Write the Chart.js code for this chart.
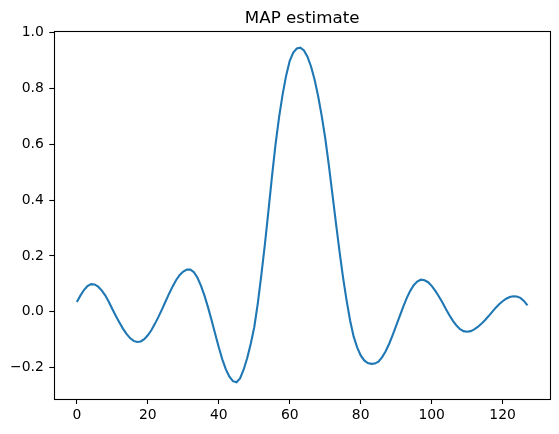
<!DOCTYPE html>
<html>
<head>
<meta charset="utf-8">
<script src="https://cdn.jsdelivr.net/npm/chart.js@4/dist/chart.umd.min.js"></script>
<style>
  html, body { margin: 0; padding: 0; background: #fff; }
  #wrap { width: 559px; height: 434px; position: relative; }
</style>
</head>
<body>
<div id="wrap"><canvas id="c" width="559" height="434"></canvas></div>
<script>
const titleText = "MAP estimate";
const xTicks = [0, 20, 40, 60, 80, 100, 120];
const yTicks = [-0.2, 0.0, 0.2, 0.4, 0.6, 0.8, 1.0];
const mapValues = [
  0.035, 0.058, 0.078, 0.092, 0.099, 0.098, 0.090, 0.077, 0.059, 0.036,
  0.010, -0.015, -0.038, -0.060, -0.079, -0.094, -0.104, -0.108, -0.106, -0.098,
  -0.084, -0.066, -0.043, -0.018, 0.009, 0.037, 0.065, 0.091, 0.114, 0.132,
  0.144, 0.151, 0.151, 0.142, 0.122, 0.093, 0.057, 0.015, -0.031, -0.079,
  -0.127, -0.170, -0.206, -0.232, -0.248, -0.252, -0.238, -0.207, -0.166, -0.115,
  -0.055, 0.030, 0.132, 0.241, 0.361, 0.485, 0.599, 0.697, 0.778, 0.846,
  0.898, 0.928, 0.942, 0.945, 0.935, 0.913, 0.878, 0.831, 0.772, 0.702,
  0.622, 0.527, 0.424, 0.320, 0.219, 0.125, 0.043, -0.030, -0.088, -0.127,
  -0.156, -0.174, -0.183, -0.186, -0.185, -0.178, -0.163, -0.142, -0.115, -0.083,
  -0.049, -0.015, 0.019, 0.050, 0.076, 0.096, 0.109, 0.115, 0.113, 0.106,
  0.093, 0.076, 0.056, 0.034, 0.010, -0.012, -0.032, -0.049, -0.062, -0.069,
  -0.071, -0.069, -0.063, -0.054, -0.043, -0.030, -0.016, -0.001, 0.014, 0.027,
  0.038, 0.047, 0.053, 0.056, 0.055, 0.050, 0.039, 0.023
];
const xIndex = mapValues.map((_, i) => i);

const n = mapValues.length;
const yMinData = Math.min(...mapValues), yMaxData = Math.max(...mapValues);
const yPad = (yMaxData - yMinData) * 0.05;
const xPad = (n - 1) * 0.05;

const fontFamily = "'DejaVu Sans', sans-serif";

const frame = {
  id: 'frame',
  afterDraw(chart) {
    const { ctx, chartArea: a } = chart;
    ctx.save();
    ctx.strokeStyle = '#000';
    ctx.lineWidth = 1.1;
    ctx.strokeRect(Math.round(a.left) + 0.5, Math.round(a.top) + 0.5,
                   Math.round(a.right - a.left), Math.round(a.bottom - a.top));
    ctx.fillStyle = '#000';
    ctx.font = "16.7px " + fontFamily;
    ctx.textAlign = 'center';
    ctx.textBaseline = 'alphabetic';
    ctx.fillText(titleText, (a.left + a.right) / 2, 23);
    ctx.restore();
  }
};

function fmt(v) {
  const s = v.toFixed(1);
  return s.startsWith('-') ? '\u2212' + s.slice(1) : s;
}

new Chart(document.getElementById('c'), {
  type: 'line',
  data: {
    datasets: [{
      data: xIndex.map((x, i) => ({ x: x, y: mapValues[i] })),
      borderColor: '#1f77b4',
      borderWidth: 2.1,
      pointRadius: 0,
      tension: 0,
      fill: false
    }]
  },
  options: {
    responsive: false,
    animation: false,
    devicePixelRatio: 1,
    layout: { padding: { left: 0, right: 9, top: 31, bottom: 0 } },
    plugins: {
      legend: { display: false },
      tooltip: { enabled: false },
      title: { display: false }
    },
    scales: {
      x: {
        type: 'linear',
        min: -xPad,
        max: (n - 1) + xPad,
        afterBuildTicks(s) { s.ticks = xTicks.map(v => ({ value: v })); },
        afterFit(s) { s.height = 35; },
        ticks: {
          color: '#000',
          font: { family: fontFamily, size: 13.9 },
          padding: 3,
          maxRotation: 0,
          callback: v => String(v)
        },
        grid: { display: true, drawOnChartArea: false, drawTicks: true, tickLength: 5, tickColor: '#000', tickWidth: 1.1 },
        border: { display: false }
      },
      y: {
        type: 'linear',
        min: yMinData - yPad,
        max: yMaxData + yPad,
        afterBuildTicks(s) { s.ticks = yTicks.map(v => ({ value: v })); },
        afterFit(s) { s.width = 54.3; },
        ticks: {
          color: '#000',
          font: { family: fontFamily, size: 13.9 },
          padding: 5.5,
          callback: v => fmt(v)
        },
        grid: { display: true, drawOnChartArea: false, drawTicks: true, tickLength: 5, tickColor: '#000', tickWidth: 1.1 },
        border: { display: false }
      }
    }
  },
  plugins: [frame]
});
</script>
</body>
</html>
